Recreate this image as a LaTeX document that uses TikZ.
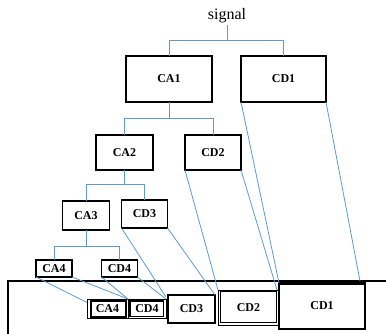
\documentclass[tikz,border=0pt]{standalone}
\usepackage{fontspec}
\setmainfont{Liberation Serif}
\usetikzlibrary{calc}
\definecolor{lnblue}{HTML}{5B9BD5}
\begin{document}
\begin{tikzpicture}[x=1pt,y=-1pt,
  box/.style={draw, line width=1.8pt, inner sep=0pt, outer sep=0pt,
    font=\fontsize{12}{12}\selectfont\bfseries},
  smallbox/.style={box, line width=1.5pt},
  thinbox/.style={box, line width=0.6pt},
  conn/.style={draw=lnblue, line width=0.8pt},
  frame/.style={draw=black, line width=1.6pt}]
\useasboundingbox (0,0) rectangle (386,334);
% frame of the lower panel
\draw[frame] (8,340) -- (8,281) -- (392,281);
% tree nodes
\node[inner sep=0pt, font=\fontsize{16}{16}\selectfont] (sig) at (227,16) {signal};
\node[box, minimum width=86pt, minimum height=46pt] (CA1) at (169,79) {CA1};
\node[box, minimum width=85pt, minimum height=46pt] (CD1) at (283.5,79) {CD1};
\node[box, minimum width=57pt, minimum height=35pt] (CA2) at (124.5,152.5) {CA2};
\node[box, minimum width=56pt, minimum height=35pt] (CD2) at (213,152.5) {CD2};
\node[box, minimum width=47pt, minimum height=29pt] (CA3) at (86,215.5) {CA3};
\node[box, minimum width=46pt, minimum height=28pt] (CD3) at (144.5,214) {CD3};
\node[smallbox, minimum width=36pt, minimum height=17pt] (CA4) at (54,268.5) {CA4};
\node[smallbox, minimum width=36pt, minimum height=17pt] (CD4) at (119.5,268.5) {CD4};
% bottom row
\node[thinbox, minimum width=41pt, minimum height=19pt] (CA4b) at (107.5,308.5) {CA4};
\draw[line width=1.4pt] (91,301) rectangle (126,317);
\node[thinbox, minimum width=38pt, minimum height=19pt] (CD4b) at (147,308.5) {CD4};
\draw[line width=1.4pt] (130,301) rectangle (163.5,316.5);
\node[box, line width=1.6pt, minimum width=47pt, minimum height=28pt] (CD3b) at (191.5,309) {CD3};
\node[thinbox, minimum width=61pt, minimum height=35pt] (CD2b) at (248.5,307.5) {CD2};
\draw[line width=0.7pt] (220,291) rectangle (276.5,322);
\draw[line width=1.6pt] (219,290.5) -- (277,290.5);
\node[box, line width=1.5pt, minimum width=86pt, minimum height=46pt] (CD1b) at (322,306) {CD1};
\draw[line width=2.6pt] (279,283.5) -- (365,283.5);
% tree connectors
\coordinate (j0) at (227,40);
\draw[conn] ([yshift=-2pt]sig.south) -- (j0);
\draw[conn] (j0) -| (CA1.north);
\draw[conn] (j0) -| (CD1.north);
\coordinate (j1) at ($(CA1.south)+(0,16)$);
\draw[conn] (CA1.south) -- (j1);
\draw[conn] (j1) -| (CA2.north);
\draw[conn] (j1) -| (CD2.north);
\coordinate (j2) at ($(CA2.south)+(0,14)$);
\draw[conn] (CA2.south) -- (j2);
\draw[conn] (j2) -| (CA3.north);
\draw[conn] (j2) -| (CD3.north);
\coordinate (j3) at ($(CA3.south)+(0,16)$);
\draw[conn] (CA3.south) -- (j3);
\draw[conn] (j3) -| (CA4.north);
\draw[conn] (j3) -| (CD4.north);
% projection lines
\coordinate (e1) at ($(CD1b.north east)+(-5,-2)$);
\draw[conn] (CD1.south west) -- (CD1b.north west);
\draw[conn] (CD1.south east) -- (e1);
\draw[conn] (CD2.south west) -- (CD2b.north west);
\draw[conn] (CD2.south east) -- ($(CD2b.north east)+(-2,0)$);
\draw[conn] (CD3.south west) -- ($(CD3b.north west)+(-2,2)$);
\draw[conn] (CD3.south east) -- (CD3b.north east);
\draw[conn] (CA4.south west) -- ($(CA4b.west)+(0,-6)$);
\draw[conn] (CA4.south east) -- (CA4b.north east);
\draw[conn] (CD4.south west) -- (CD4b.north west);
\draw[conn] (CD4.south east) -- (CD4b.north east);
\end{tikzpicture}
\end{document}
